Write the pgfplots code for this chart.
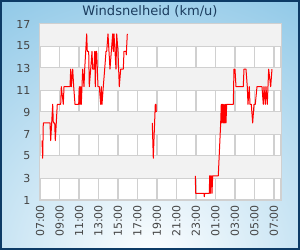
\documentclass[border=0pt]{standalone}
\usepackage{pgfplots}
\pgfplotsset{compat=1.18}
\usepackage{fontspec}
\setmainfont{DejaVu Sans}
\definecolor{bgblue}{HTML}{5AAEDC}
\definecolor{frame}{HTML}{0D3B66}
\definecolor{band}{HTML}{F2F2F2}
\definecolor{gridc}{HTML}{D0D0D0}
\definecolor{titlec}{HTML}{1B3C5E}
\definecolor{tickc}{HTML}{444444}
\begin{document}
\begin{tikzpicture}
\begin{scope}
\clip (0,0) rectangle (225pt,187.5pt);
\fill[bgblue] (0,0) rectangle (225pt,187.5pt);
\shade[inner color=white, outer color=bgblue] (112.5pt,-10pt) circle (340pt);
\end{scope}
\draw[frame, line width=1.2pt] (0.6pt,0.6pt) rectangle (224.4pt,186.9pt);
\node[font=\fontsize{9.8}{12}\selectfont, text=titlec] at (112.5pt,179pt) {Windsnelheid (km/u)};
\begin{axis}[
  at={(30pt,37.5pt)}, anchor=south west,
  scale only axis, width=180.75pt, height=132pt,
  xmin=0, xmax=24.72, ymin=1, ymax=17,
  xtick={0,2,...,24},
  xticklabels={07:00,09:00,11:00,13:00,15:00,17:00,19:00,21:00,23:00,01:00,03:00,05:00,07:00},
  ytick={1,3,...,17},
  major tick length=0pt,
  grid=major,
  major grid style={gridc, line width=0.9pt},
  axis line style={gridc, line width=0.9pt},
  axis background/.style={fill=white},
  tick label style={font=\fontsize{8.25}{10}\selectfont, text=tickc},
  /pgf/number format/assume math mode=true,
  xticklabel style={rotate=90, anchor=east, inner sep=3.75pt},
  yticklabel style={anchor=east, inner sep=0pt, xshift=-7pt},
  clip=true,
]
\fill[band] (axis cs:0,15) rectangle (axis cs:24.72,17);
\fill[band] (axis cs:0,11) rectangle (axis cs:24.72,13);
\fill[band] (axis cs:0,7) rectangle (axis cs:24.72,9);
\fill[band] (axis cs:0,3) rectangle (axis cs:24.72,5);
\addplot[red, line width=0.75pt, line join=round] coordinates {
(0.205,6.4)(0.277,4.8)(0.338,8.0)(1.026,8.0)(1.097,6.4)(1.303,9.7)(1.364,8.0)(1.508,8.0)
(1.569,6.4)(1.774,9.7)(2.123,9.7)(2.185,11.3)(2.390,9.7)(2.462,11.3)(3.077,11.3)(3.149,12.9)
(3.210,11.3)(3.354,12.9)(3.456,11.3)(3.590,9.7)(3.969,9.7)(4.031,11.3)(4.103,9.7)(4.174,11.3)
(4.236,9.7)(4.379,12.9)(4.513,11.3)(4.585,12.9)(4.790,16.1)(4.851,14.5)(4.995,14.5)(5.056,11.3)
(5.200,12.9)(5.333,14.5)(5.405,12.9)(5.538,12.9)(5.610,14.5)(5.672,11.3)(5.744,14.5)(5.815,14.5)
(5.949,11.3)(6.082,11.3)(6.226,9.7)(6.287,11.3)(6.359,9.7)(6.492,11.3)(6.636,12.9)(6.769,14.5)
(6.841,14.5)(6.974,16.1)(7.179,12.9)(7.313,14.5)(7.456,16.1)(7.518,14.5)(7.590,16.1)(7.795,12.9)
(7.867,16.1)(8.000,14.5)(8.133,11.3)(8.277,12.9)(8.544,12.9)(8.615,14.5)(8.821,14.5)(8.851,14.2)
(8.954,16.1)
};
\addplot[red, line width=0.75pt, line join=round] coordinates {
(11.518,8.0)(11.621,4.8)(11.826,9.7)(11.867,9.0)(11.897,9.7)(11.928,9.0)
};
\addplot[red, line width=0.75pt, line join=round] coordinates {
(15.928,3.2)(15.969,1.6)(16.821,1.6)(16.851,1.3)(16.892,1.6)(17.364,1.6)(17.405,3.2)(17.467,1.6)
(17.508,3.2)(17.569,3.2)(17.641,1.6)(17.713,3.2)(18.287,3.2)(18.533,8.0)(18.595,9.7)(18.667,8.0)
(18.738,9.7)(18.800,8.0)(18.872,9.7)(18.944,8.0)(19.005,9.7)(19.077,8.0)(19.149,9.7)(19.826,9.7)
(19.897,12.9)(20.000,12.9)(20.103,11.3)(20.851,11.3)(20.923,12.9)(21.128,12.9)(21.262,11.3)(21.333,9.7)
(21.467,11.3)(21.538,9.7)(21.672,9.7)(21.815,8.0)(21.949,9.7)(22.082,9.7)(22.256,11.3)(22.769,11.3)
(22.903,9.7)(22.974,11.3)(23.108,9.7)(23.179,11.3)(23.313,9.7)(23.456,12.9)(23.662,11.3)(23.795,12.9)
};
\end{axis}
\end{tikzpicture}
\end{document}
